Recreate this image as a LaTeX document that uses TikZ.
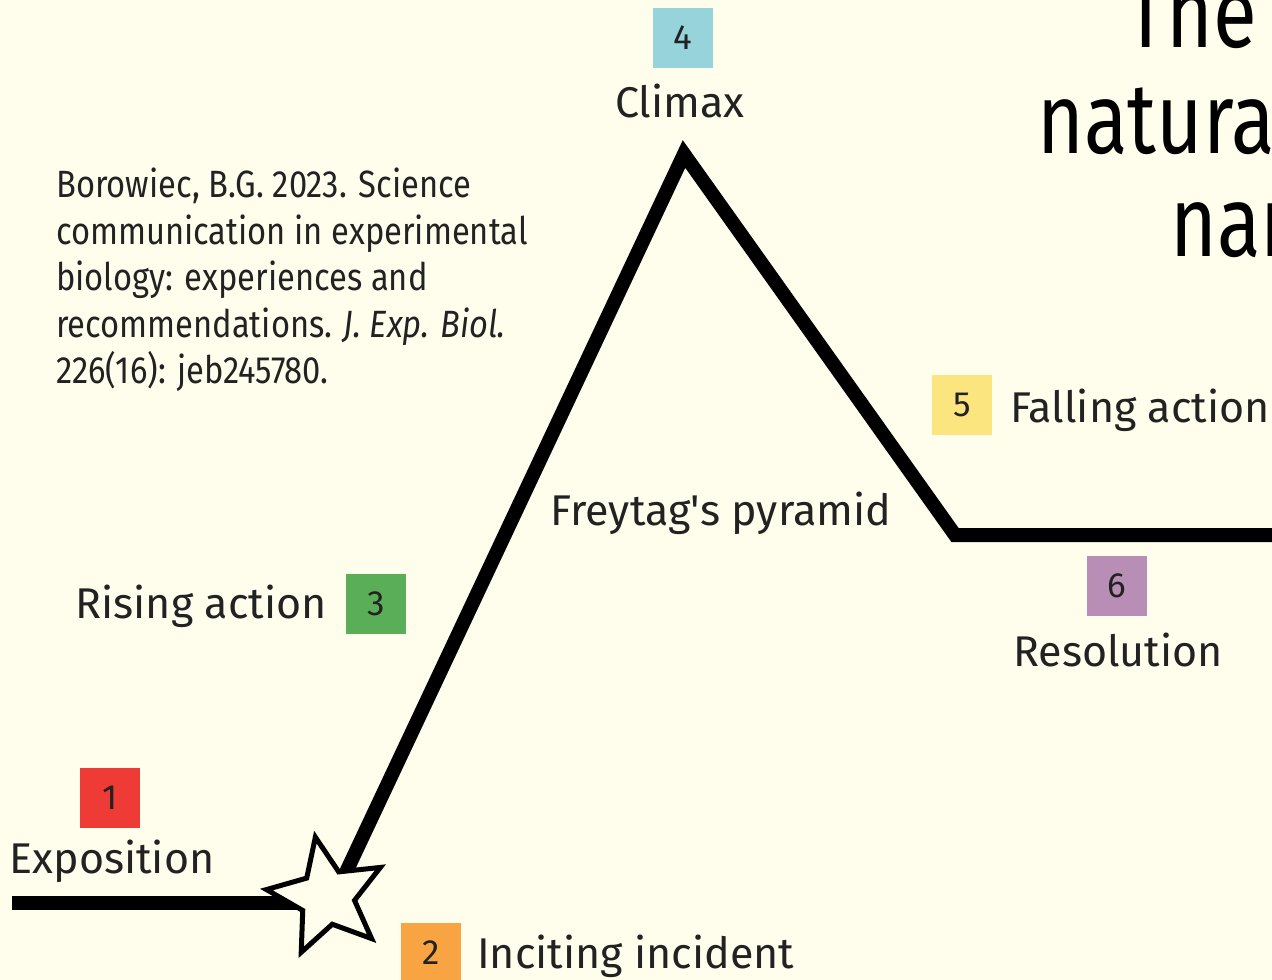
\documentclass[tikz,border=0pt]{standalone}
\usepackage{fontspec}
\setmainfont{Fira Sans}
\newfontfamily\citefont{Fira Sans}[FakeStretch=0.86]
\newfontfamily\titlefont{Fira Sans}[FakeStretch=0.8]
\usetikzlibrary{shapes.geometric}
\definecolor{bg}{HTML}{FFFDEC}
\definecolor{ink}{HTML}{222222}
\definecolor{cone}{HTML}{EE3B36}
\definecolor{ctwo}{HTML}{F8A443}
\definecolor{cthree}{HTML}{5BAE58}
\definecolor{cfour}{HTML}{97D3DB}
\definecolor{cfive}{HTML}{FBE57F}
\definecolor{csix}{HTML}{B98EB6}
\tikzset{
  numbox/.style={minimum size=60pt, inner sep=0pt, text=ink, font=\fontsize{35}{35}\selectfont},
  lbl/.style={inner sep=0pt, text=ink, anchor=base, font=\fontsize{43}{50}\selectfont},
  plot/.style={line width=14pt, line join=miter, miter limit=10, draw=black},
  ttl/.style={inner sep=0pt, anchor=base west, text=black, font=\titlefont\fontsize{100}{100}\selectfont},
}
\begin{document}
\begin{tikzpicture}[x=1pt,y=-1pt]
\fill[bg] (0,0) rectangle (1272,980);
\useasboundingbox (0,0) rectangle (1272,980);
\clip (0,0) rectangle (1272,980);
% plot line
\coordinate (a) at (12,903);
\coordinate (b) at (330,903);
\coordinate (c) at (340,885);
\coordinate (p) at (684,154);
\coordinate (r) at (955,535);
\coordinate (e) at (1280,535);
\draw[plot] (a) -- (b);
\draw[plot] (c) -- (p) -- (r) -- (e);
\node[star, star points=5, star point ratio=2.2, minimum size=122pt, inner sep=0pt,
      draw=black, line width=5pt, fill=bg, rotate=11] (star) at (327,897) {};
% numbered boxes
\node[numbox, fill=cone] (n1) at (110,798) {1};
\node[numbox, fill=ctwo] (n2) at (431,953) {2};
\node[numbox, fill=cthree] (n3) at (376,604) {3};
\node[numbox, fill=cfour] (n4) at (683,38) {4};
\node[numbox, fill=cfive] (n5) at (962,405) {5};
\node[numbox, fill=csix] (n6) at (1117,586) {6};
% labels
\node[lbl] (l1) at (112,873) {Exposition};
\node[lbl, anchor=base west] (l2) at (477,968) {Inciting incident};
\node[lbl, anchor=base east] (l3) at (327,618) {Rising action};
\node[lbl] (l4) at (680,117) {Climax};
\node[lbl, anchor=base west] (l5) at (1010,422) {Falling action};
\node[lbl] (l6) at (1118,666) {Resolution};
\node[lbl] (fp) at (721,525) {Freytag\textquotesingle s pyramid};
% title (cut off at the right edge, as in the reference)
\node[ttl] (t1) at (1125,47) {The};
\node[ttl] (t2) at (1037,153) {natura};
\node[ttl] (t3) at (1170,256) {nar};
% citation
\node[inner sep=0pt, anchor=north west, text=ink, align=left,
      font=\citefont\fontsize{38}{46.5}\selectfont] (cite) at (56,168)
  {Borowiec, B.G. 2023. Science\\communication in experimental\\biology: experiences and\\recommendations. \textit{J. Exp. Biol.}\\226(16): jeb245780.};
\end{tikzpicture}
\end{document}
